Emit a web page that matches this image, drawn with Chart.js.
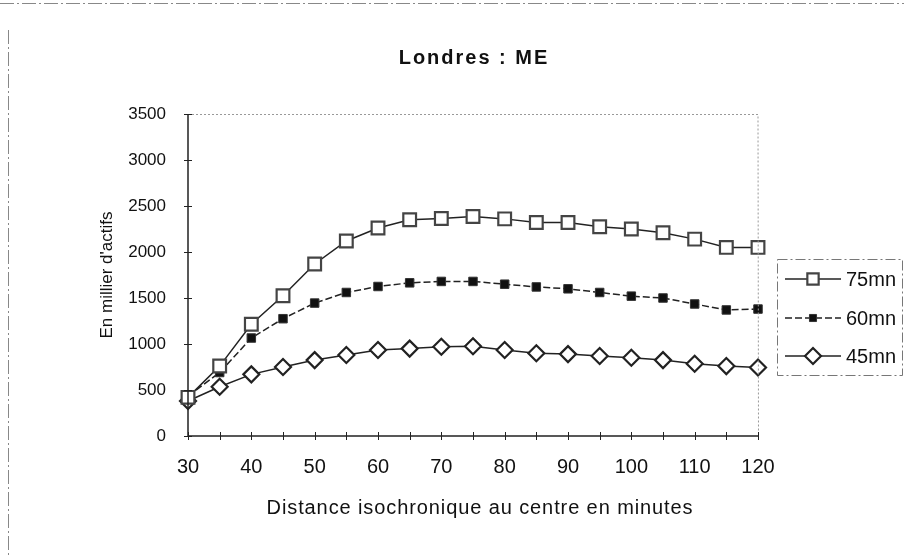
<!DOCTYPE html>
<html>
<head>
<meta charset="utf-8">
<script src="https://cdn.jsdelivr.net/npm/chart.js@4"></script>
<style>
  html, body { margin: 0; padding: 0; background: #fff; }
  #wrap { width: 904px; height: 558px; position: relative; }
</style>
</head>
<body>
<div id="wrap"><canvas id="londresChart" width="904" height="558"></canvas></div>
<script>
// distances (minutes) and number of workers (thousands) per isochrone
const distances = [30, 35, 40, 45, 50, 55, 60, 65, 70, 75, 80, 85, 90, 95, 100, 105, 110, 115, 120];
const actifs75 = [420, 760, 1215, 1525, 1870, 2120, 2260, 2350, 2365, 2385, 2360, 2320, 2320, 2275, 2250, 2210, 2140, 2050, 2050];
const actifs60 = [435, 690, 1065, 1275, 1445, 1560, 1625, 1665, 1680, 1680, 1650, 1620, 1600, 1560, 1520, 1500, 1435, 1370, 1380];
const actifs45 = [380, 535, 670, 750, 825, 880, 935, 950, 970, 975, 935, 900, 890, 870, 850, 825, 785, 760, 745];
const yTicks = [0, 500, 1000, 1500, 2000, 2500, 3000, 3500];

const chartTitle = "Londres : ME";
const xTitle = "Distance isochronique au centre en minutes";
const yTitle = "En millier d'actifs";

const FONT = "'Liberation Sans', Arial, sans-serif";
const INK = "#111";

// frame, titles, axis ticks crossing the axes, legend box
const decorations = {
  id: "decorations",
  beforeDraw(chart) {
    const c = chart.ctx;
    const a = chart.chartArea;
    c.save();
    c.strokeStyle = "#888";
    c.lineWidth = 1;
    c.setLineDash([14, 3, 2, 3]);
    c.beginPath();
    c.moveTo(0, 3.5); c.lineTo(904, 3.5);
    c.moveTo(8.5, 30); c.lineTo(8.5, 558);
    c.stroke();
    c.setLineDash([]);

    c.fillStyle = INK;
    c.textAlign = "center";
    c.textBaseline = "middle";
    c.font = "bold 20px " + FONT;
    c.letterSpacing = "2px";
    c.fillText(chartTitle, 474, 58);
    c.font = "20px " + FONT;
    c.letterSpacing = "0.9px";
    c.fillText(xTitle, 480, 508);
    c.letterSpacing = "0px";
    c.font = "17px " + FONT;
    c.translate(107, (a.top + a.bottom) / 2);
    c.rotate(-Math.PI / 2);
    c.fillText(yTitle, 0, 0);
    c.restore();
  },
  afterDatasetsDraw(chart) {
    const c = chart.ctx;
    const a = chart.chartArea;
    const xs = chart.scales.x, ys = chart.scales.y;
    c.save();
    // top and right of the plot: dotted grey
    c.strokeStyle = "#999";
    c.lineWidth = 1;
    c.setLineDash([2, 2]);
    c.beginPath();
    c.moveTo(a.left, a.top + 0.5); c.lineTo(a.right, a.top + 0.5);
    c.lineTo(a.right + 0.5, a.bottom);
    c.stroke();
    // axes
    c.setLineDash([]);
    c.strokeStyle = "#222";
    c.lineWidth = 1.5;
    c.beginPath();
    c.moveTo(a.left, a.top); c.lineTo(a.left, a.bottom); c.lineTo(a.right, a.bottom);
    c.stroke();
    c.lineWidth = 1;
    c.beginPath();
    yTicks.forEach(v => {
      const y = Math.round(ys.getPixelForValue(v)) + 0.5;
      c.moveTo(a.left - 4, y); c.lineTo(a.left + 4, y);
    });
    distances.forEach((d, i) => {
      const x = Math.round(xs.getPixelForValue(i)) + 0.5;
      c.moveTo(x, a.bottom - 4); c.lineTo(x, a.bottom + 4);
    });
    c.stroke();

    // legend
    const bx = 777, by = 259, bw = 125, bh = 116;
    c.strokeStyle = "#777";
    c.setLineDash([10, 3, 2, 3]);
    c.strokeRect(bx + 0.5, by + 0.5, bw, bh);
    c.setLineDash([]);
    const rows = [279, 318, 356];
    chart.data.datasets.forEach((ds, i) => {
      const y = rows[i];
      c.strokeStyle = ds.borderColor;
      c.lineWidth = ds.borderWidth;
      c.setLineDash(ds.borderDash || []);
      c.beginPath();
      c.moveTo(785, y); c.lineTo(841, y);
      c.stroke();
      c.setLineDash([]);
      c.fillStyle = ds.pointBackgroundColor;
      c.strokeStyle = ds.pointBorderColor;
      c.lineWidth = ds.pointBorderWidth;
      Chart.helpers.drawPoint(c, {
        pointStyle: ds.pointStyle,
        radius: ds.legendRadius,
        borderWidth: ds.pointBorderWidth
      }, 813, y);
      c.fillStyle = INK;
      c.font = "20px " + FONT;
      c.textBaseline = "middle";
      c.textAlign = "left";
      c.fillText(ds.label, 846, y + 1);
    });
    c.restore();
  }
};

new Chart(document.getElementById("londresChart"), {
  type: "line",
  data: {
    labels: distances.map(String),
    datasets: [
      {
        label: "75mn",
        data: actifs75,
        borderColor: "#222",
        borderWidth: 1.5,
        pointStyle: "rect",
        pointRadius: 9,
        legendRadius: 8,
        pointBackgroundColor: "#fff",
        pointBorderColor: "#444",
        pointBorderWidth: 2.2
      },
      {
        label: "60mn",
        data: actifs60,
        borderColor: "#222",
        borderWidth: 1.5,
        borderDash: [7, 3],
        pointStyle: "rect",
        pointRadius: 6,
        legendRadius: 5,
        pointBackgroundColor: "#111",
        pointBorderColor: "#333",
        pointBorderWidth: 1
      },
      {
        label: "45mn",
        data: actifs45,
        borderColor: "#222",
        borderWidth: 1.5,
        pointStyle: "rectRot",
        pointRadius: 8,
        legendRadius: 8,
        pointBackgroundColor: "#fff",
        pointBorderColor: "#222",
        pointBorderWidth: 2.2
      }
    ]
  },
  options: {
    responsive: false,
    animation: false,
    layout: { padding: { left: 0, right: 146, top: 114, bottom: 0 } },
    elements: { line: { tension: 0 } },
    plugins: {
      legend: { display: false },
      tooltip: { enabled: false },
      title: { display: false }
    },
    scales: {
      x: {
        type: "category",
        offset: false,
        border: { display: false },
        grid: { display: false, drawTicks: false },
        ticks: {
          autoSkip: false,
          maxRotation: 0,
          padding: 19,
          color: INK,
          font: { family: FONT, size: 20 },
          callback: (v, i) => (i % 2 === 0 ? distances[i] : "")
        },
        afterFit: s => { s.height = 122; }
      },
      y: {
        min: 0,
        max: 3500,
        border: { display: false },
        grid: { display: false, drawTicks: false },
        afterBuildTicks: s => { s.ticks = yTicks.map(v => ({ value: v })); },
        ticks: {
          padding: 22,
          color: INK,
          font: { family: FONT, size: 17 },
          callback: v => String(v)
        },
        afterFit: s => { s.width = 188; }
      }
    }
  },
  plugins: [decorations]
});
</script>
</body>
</html>
